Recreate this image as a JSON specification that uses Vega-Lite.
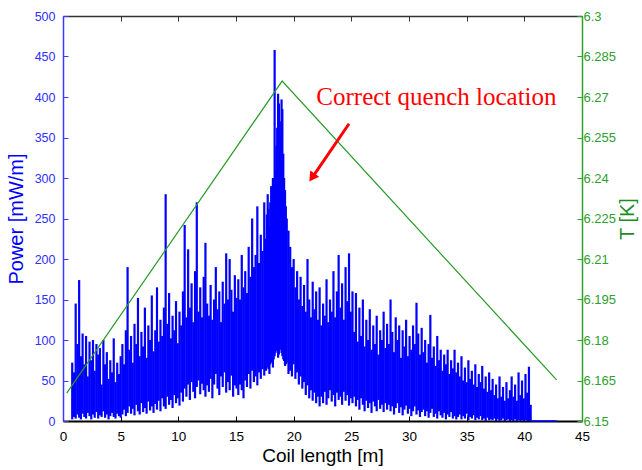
{
  "$schema": "https://vega.github.io/schema/vega-lite/v6.json",
  "width": 519,
  "height": 405,
  "autosize": {"type": "none"},
  "padding": {"left": 63, "top": 16, "right": 60, "bottom": 49},
  "background": "white",
  "config": {
    "view": {"stroke": null},
    "axis": {"grid": false, "labelFont": "Liberation Sans", "titleFont": "Liberation Sans", "titleFontWeight": "normal"}
  },
  "datasets": {
    "power": [
      {"x":0.8,"lo":2,"hi":72},{"x":0.95,"lo":5,"hi":60},{"x":1.1,"lo":3,"hi":145},{"x":1.25,"lo":8,"hi":95},{"x":1.4,"lo":4,"hi":174},{"x":1.55,"lo":2,"hi":80},{"x":1.7,"lo":9,"hi":108},{"x":1.85,"lo":5,"hi":70},{"x":2.0,"lo":3,"hi":105},{"x":2.15,"lo":10,"hi":55},{"x":2.3,"lo":6,"hi":98},{"x":2.45,"lo":2,"hi":75},{"x":2.6,"lo":8,"hi":100},{"x":2.75,"lo":4,"hi":62},{"x":2.9,"lo":11,"hi":95},{"x":3.05,"lo":3,"hi":82},{"x":3.2,"lo":7,"hi":90},{"x":3.35,"lo":5,"hi":45},{"x":3.5,"lo":12,"hi":100},{"x":3.65,"lo":4,"hi":70},{"x":3.8,"lo":8,"hi":85},{"x":3.95,"lo":2,"hi":52},{"x":4.1,"lo":6,"hi":75},{"x":4.25,"lo":10,"hi":60},{"x":4.4,"lo":5,"hi":102},{"x":4.55,"lo":3,"hi":48},{"x":4.7,"lo":9,"hi":72},{"x":4.85,"lo":6,"hi":58},{"x":5.0,"lo":4,"hi":80},
      {"x":5.15,"lo":8,"hi":95},{"x":5.3,"lo":14,"hi":70},{"x":5.45,"lo":6,"hi":112},{"x":5.6,"lo":10,"hi":190},{"x":5.75,"lo":18,"hi":88},{"x":5.9,"lo":9,"hi":105},{"x":6.05,"lo":15,"hi":72},{"x":6.2,"lo":7,"hi":120},{"x":6.35,"lo":20,"hi":95},{"x":6.5,"lo":12,"hi":152},{"x":6.65,"lo":8,"hi":80},{"x":6.8,"lo":22,"hi":110},{"x":6.95,"lo":11,"hi":92},{"x":7.1,"lo":16,"hi":140},{"x":7.25,"lo":9,"hi":78},{"x":7.4,"lo":24,"hi":118},{"x":7.55,"lo":13,"hi":100},{"x":7.7,"lo":18,"hi":155},{"x":7.85,"lo":10,"hi":86},{"x":8.0,"lo":21,"hi":112},
      {"x":8.15,"lo":14,"hi":165},{"x":8.3,"lo":25,"hi":98},{"x":8.45,"lo":12,"hi":125},{"x":8.6,"lo":28,"hi":105},{"x":8.75,"lo":18,"hi":140},{"x":8.9,"lo":15,"hi":280},{"x":9.05,"lo":30,"hi":120},{"x":9.2,"lo":20,"hi":158},{"x":9.35,"lo":26,"hi":102},{"x":9.5,"lo":16,"hi":130},{"x":9.65,"lo":32,"hi":112},{"x":9.8,"lo":22,"hi":148},{"x":9.95,"lo":28,"hi":96},{"x":10.1,"lo":19,"hi":135},
      {"x":10.25,"lo":35,"hi":118},{"x":10.4,"lo":24,"hi":160},{"x":10.55,"lo":40,"hi":242},{"x":10.7,"lo":30,"hi":128},{"x":10.85,"lo":45,"hi":212},{"x":11.0,"lo":26,"hi":140},{"x":11.15,"lo":48,"hi":170},{"x":11.3,"lo":36,"hi":122},{"x":11.45,"lo":28,"hi":185},{"x":11.6,"lo":42,"hi":270},{"x":11.75,"lo":50,"hi":135},{"x":11.9,"lo":33,"hi":165},{"x":12.05,"lo":46,"hi":128},{"x":12.2,"lo":38,"hi":178},{"x":12.35,"lo":30,"hi":220},{"x":12.5,"lo":44,"hi":145},
      {"x":12.65,"lo":36,"hi":130},{"x":12.8,"lo":52,"hi":168},{"x":12.95,"lo":28,"hi":125},{"x":13.1,"lo":45,"hi":150},{"x":13.25,"lo":58,"hi":190},{"x":13.4,"lo":40,"hi":138},{"x":13.55,"lo":32,"hi":160},{"x":13.7,"lo":55,"hi":122},{"x":13.85,"lo":42,"hi":172},{"x":14.0,"lo":60,"hi":145},{"x":14.15,"lo":35,"hi":207},{"x":14.3,"lo":48,"hi":150},{"x":14.45,"lo":38,"hi":200},{"x":14.6,"lo":56,"hi":162},{"x":14.75,"lo":30,"hi":135},{"x":14.9,"lo":44,"hi":180},{"x":15.05,"lo":40,"hi":152},
      {"x":15.2,"lo":32,"hi":175},{"x":15.35,"lo":45,"hi":150},{"x":15.5,"lo":38,"hi":205},{"x":15.65,"lo":28,"hi":165},{"x":15.8,"lo":50,"hi":185},{"x":15.95,"lo":42,"hi":158},{"x":16.1,"lo":58,"hi":215},{"x":16.25,"lo":40,"hi":178},{"x":16.4,"lo":62,"hi":250},{"x":16.55,"lo":48,"hi":190},{"x":16.7,"lo":55,"hi":205},{"x":16.85,"lo":44,"hi":265},{"x":17.0,"lo":60,"hi":195},{"x":17.15,"lo":52,"hi":230},{"x":17.3,"lo":64,"hi":210},{"x":17.45,"lo":56,"hi":270},
      {"x":17.6,"lo":62,"hi":225},{"x":17.67,"lo":66,"hi":255},{"x":17.75,"lo":70,"hi":280},{"x":17.82,"lo":64,"hi":262},{"x":17.9,"lo":58,"hi":240},{"x":17.97,"lo":70,"hi":270},{"x":18.05,"lo":75,"hi":290},{"x":18.12,"lo":72,"hi":285},{"x":18.2,"lo":66,"hi":300},{"x":18.27,"lo":76,"hi":300},{"x":18.35,"lo":80,"hi":458},{"x":18.42,"lo":84,"hi":310},{"x":18.5,"lo":88,"hi":340},{"x":18.57,"lo":86,"hi":362},{"x":18.65,"lo":78,"hi":404},{"x":18.72,"lo":82,"hi":392},{"x":18.8,"lo":90,"hi":370},{"x":18.87,"lo":88,"hi":352},{"x":18.95,"lo":84,"hi":397},{"x":19.02,"lo":80,"hi":385},{"x":19.1,"lo":76,"hi":330},{"x":19.17,"lo":74,"hi":300},{"x":19.25,"lo":68,"hi":285},{"x":19.32,"lo":70,"hi":265},{"x":19.4,"lo":72,"hi":250},{"x":19.55,"lo":58,"hi":235},
      {"x":19.7,"lo":62,"hi":215},{"x":19.85,"lo":55,"hi":190},{"x":20.0,"lo":70,"hi":200},{"x":20.15,"lo":52,"hi":165},{"x":20.3,"lo":60,"hi":185},{"x":20.45,"lo":45,"hi":150},{"x":20.6,"lo":55,"hi":178},{"x":20.75,"lo":40,"hi":142},{"x":20.9,"lo":48,"hi":168},{"x":21.05,"lo":32,"hi":135},{"x":21.2,"lo":44,"hi":200},{"x":21.35,"lo":28,"hi":150},{"x":21.5,"lo":38,"hi":128},{"x":21.65,"lo":25,"hi":172},{"x":21.8,"lo":35,"hi":138},{"x":21.95,"lo":22,"hi":160},{"x":22.1,"lo":30,"hi":125},
      {"x":22.25,"lo":18,"hi":165},{"x":22.4,"lo":30,"hi":118},{"x":22.55,"lo":22,"hi":145},{"x":22.7,"lo":36,"hi":130},{"x":22.85,"lo":20,"hi":175},{"x":23.0,"lo":28,"hi":122},{"x":23.15,"lo":38,"hi":150},{"x":23.3,"lo":24,"hi":135},{"x":23.45,"lo":32,"hi":185},{"x":23.6,"lo":18,"hi":128},{"x":23.75,"lo":35,"hi":160},{"x":23.9,"lo":26,"hi":205},{"x":24.05,"lo":30,"hi":140},{"x":24.2,"lo":20,"hi":170},{"x":24.35,"lo":36,"hi":125},{"x":24.5,"lo":25,"hi":190},{"x":24.65,"lo":32,"hi":148},{"x":24.8,"lo":19,"hi":207},{"x":24.95,"lo":28,"hi":135},{"x":25.1,"lo":22,"hi":160},
      {"x":25.25,"lo":30,"hi":110},{"x":25.4,"lo":18,"hi":158},{"x":25.55,"lo":26,"hi":98},{"x":25.7,"lo":14,"hi":140},{"x":25.85,"lo":28,"hi":105},{"x":26.0,"lo":20,"hi":150},{"x":26.15,"lo":12,"hi":92},{"x":26.3,"lo":25,"hi":125},{"x":26.45,"lo":16,"hi":100},{"x":26.6,"lo":22,"hi":138},{"x":26.75,"lo":10,"hi":88},{"x":26.9,"lo":24,"hi":118},{"x":27.05,"lo":18,"hi":95},{"x":27.2,"lo":12,"hi":130},{"x":27.35,"lo":26,"hi":82},{"x":27.5,"lo":15,"hi":112},{"x":27.65,"lo":20,"hi":100},{"x":27.8,"lo":11,"hi":135},{"x":27.95,"lo":22,"hi":90},{"x":28.1,"lo":14,"hi":120},
      {"x":28.25,"lo":20,"hi":95},{"x":28.4,"lo":12,"hi":150},{"x":28.55,"lo":18,"hi":110},{"x":28.7,"lo":8,"hi":85},{"x":28.85,"lo":16,"hi":128},{"x":29.0,"lo":22,"hi":100},{"x":29.15,"lo":10,"hi":118},{"x":29.3,"lo":17,"hi":78},{"x":29.45,"lo":7,"hi":112},{"x":29.6,"lo":14,"hi":92},{"x":29.75,"lo":19,"hi":125},{"x":29.9,"lo":9,"hi":80},{"x":30.05,"lo":15,"hi":105},{"x":30.2,"lo":6,"hi":88},{"x":30.35,"lo":12,"hi":118},{"x":30.5,"lo":18,"hi":95},{"x":30.65,"lo":8,"hi":146},{"x":30.8,"lo":13,"hi":108},{"x":30.95,"lo":5,"hi":82},{"x":31.1,"lo":11,"hi":115},
      {"x":31.25,"lo":14,"hi":85},{"x":31.4,"lo":6,"hi":100},{"x":31.55,"lo":12,"hi":72},{"x":31.7,"lo":4,"hi":95},{"x":31.85,"lo":10,"hi":131},{"x":32.0,"lo":15,"hi":78},{"x":32.15,"lo":5,"hi":92},{"x":32.3,"lo":9,"hi":68},{"x":32.45,"lo":3,"hi":105},{"x":32.6,"lo":12,"hi":75},{"x":32.75,"lo":7,"hi":88},{"x":32.9,"lo":4,"hi":62},{"x":33.05,"lo":10,"hi":82},{"x":33.2,"lo":2,"hi":70},{"x":33.35,"lo":8,"hi":88},{"x":33.5,"lo":5,"hi":58},{"x":33.65,"lo":11,"hi":75},{"x":33.8,"lo":3,"hi":65},{"x":33.95,"lo":6,"hi":88},{"x":34.1,"lo":2,"hi":60},
      {"x":34.25,"lo":5,"hi":72},{"x":34.4,"lo":8,"hi":55},{"x":34.55,"lo":2,"hi":80},{"x":34.7,"lo":6,"hi":50},{"x":34.85,"lo":3,"hi":66},{"x":35.0,"lo":9,"hi":48},{"x":35.15,"lo":1,"hi":75},{"x":35.3,"lo":5,"hi":52},{"x":35.45,"lo":3,"hi":62},{"x":35.6,"lo":7,"hi":45},{"x":35.75,"lo":1,"hi":70},{"x":35.9,"lo":4,"hi":42},{"x":36.05,"lo":2,"hi":58},{"x":36.2,"lo":6,"hi":48},{"x":36.35,"lo":1,"hi":68},{"x":36.5,"lo":3,"hi":40},{"x":36.65,"lo":0,"hi":55},{"x":36.8,"lo":4,"hi":36},{"x":36.95,"lo":1,"hi":60},{"x":37.1,"lo":2,"hi":38},
      {"x":37.25,"lo":1,"hi":52},{"x":37.4,"lo":3,"hi":32},{"x":37.55,"lo":0,"hi":45},{"x":37.7,"lo":2,"hi":28},{"x":37.85,"lo":0,"hi":55},{"x":38.0,"lo":1,"hi":30},{"x":38.15,"lo":3,"hi":42},{"x":38.3,"lo":0,"hi":25},{"x":38.45,"lo":1,"hi":48},{"x":38.6,"lo":2,"hi":28},{"x":38.75,"lo":0,"hi":38},{"x":38.9,"lo":1,"hi":55},{"x":39.05,"lo":0,"hi":30},{"x":39.2,"lo":2,"hi":45},{"x":39.35,"lo":0,"hi":25},{"x":39.5,"lo":1,"hi":60},{"x":39.65,"lo":0,"hi":32},{"x":39.8,"lo":1,"hi":50},{"x":39.95,"lo":0,"hi":28},{"x":40.1,"lo":1,"hi":58},{"x":40.25,"lo":0,"hi":35},{"x":40.4,"lo":0,"hi":67},{"x":40.55,"lo":0,"hi":20}
    ],
    "tail": [{"x":40.55,"p":0},{"x":42.8,"p":0}],
    "temp": [{"x":0.32,"t":6.1603},{"x":19.0,"t":6.2759},{"x":42.8,"t":6.1652}],
    "arrow": [{"x":24.8,"y":367,"x2":21.68,"y2":302}],
    "head": [{"x":21.59,"y":300.6}],
    "note": [{"x":32.38,"y":390,"label":"Correct quench location"}]
  },
  "layer": [
    {
      "data": {"name": "power"},
      "mark": {"type": "rule", "color": "#0000ff", "strokeWidth": 2.2},
      "encoding": {
        "x": {"field": "x", "type": "quantitative", "scale": {"domain": [0, 45], "nice": false, "zero": false},
          "axis": {"orient": "bottom", "values": [0,5,10,15,20,25,30,35,40,45], "title": "Coil length [m]", "titleFontSize": 19, "titleColor": "#000000", "labelFontSize": 13.5, "labelColor": "#000000", "domainColor": "#000000", "domainWidth": 2, "tickColor": "#000000", "tickSize": -5, "tickWidth": 1, "labelPadding": 13, "titlePadding": 4, "labelFlush": false}},
        "y": {"field": "lo", "type": "quantitative", "scale": {"domain": [0, 500], "nice": false},
          "axis": {"orient": "left", "values": [0,50,100,150,200,250,300,350,400,450,500], "title": "Power [mW/m]", "titleFontSize": 20, "titleColor": "#0000ff", "labelFontSize": 12.5, "labelColor": "#3030ff", "domainColor": "#3a3aff", "domainWidth": 1.5, "tickColor": "#3a3aff", "tickSize": -5, "labelPadding": 13, "titlePadding": 8, "labelFlush": false}},
        "y2": {"field": "hi"}
      }
    },
    {
      "data": {"name": "tail"},
      "mark": {"type": "line", "color": "#0000ff", "strokeWidth": 1.5},
      "encoding": {
        "x": {"field": "x", "type": "quantitative", "axis": null},
        "y": {"field": "p", "type": "quantitative", "scale": {"domain": [0, 500], "nice": false}, "axis": null}
      }
    },
    {
      "data": {"name": "temp"},
      "mark": {"type": "line", "color": "#2a9a2a", "strokeWidth": 1.2},
      "encoding": {
        "x": {"field": "x", "type": "quantitative",
          "axis": {"orient": "top", "values": [0,5,10,15,20,25,30,35,40,45], "labels": false, "title": null, "domainColor": "#333333", "domainWidth": 1.5, "tickColor": "#333333", "tickSize": -5}},
        "y": {"field": "t", "type": "quantitative", "scale": {"domain": [6.15, 6.3], "nice": false, "zero": false},
          "axis": {"orient": "right", "values": [6.15,6.165,6.18,6.195,6.21,6.225,6.24,6.255,6.27,6.285,6.3], "format": ".4~f", "title": "T [K]", "titleAngle": 270, "titleFontSize": 20, "titleColor": "#1e8c1e", "labelFontSize": 13, "labelColor": "#2ea02e", "domainColor": "#2ea02e", "domainWidth": 1.5, "tickColor": "#2ea02e", "tickSize": -5, "labelPadding": 6, "titlePadding": 22, "labelFlush": false}}
      }
    },
    {
      "data": {"name": "arrow"},
      "mark": {"type": "rule", "color": "#ff0000", "strokeWidth": 3},
      "encoding": {
        "x": {"field": "x", "type": "quantitative", "axis": null},
        "y": {"field": "y", "type": "quantitative", "scale": {"domain": [0, 500], "nice": false}, "axis": null},
        "x2": {"field": "x2"},
        "y2": {"field": "y2"}
      }
    },
    {
      "data": {"name": "head"},
      "mark": {"type": "point", "shape": "triangle-up", "filled": true, "color": "#ff0000", "opacity": 1, "size": 120, "angle": 214.6},
      "encoding": {
        "x": {"field": "x", "type": "quantitative", "axis": null},
        "y": {"field": "y", "type": "quantitative", "scale": {"domain": [0, 500], "nice": false}, "axis": null}
      }
    },
    {
      "data": {"name": "note"},
      "mark": {"type": "text", "font": "Liberation Serif", "fontSize": 25, "color": "#ff0000", "align": "center", "baseline": "alphabetic"},
      "encoding": {
        "x": {"field": "x", "type": "quantitative", "axis": null},
        "y": {"field": "y", "type": "quantitative", "scale": {"domain": [0, 500], "nice": false}, "axis": null},
        "text": {"field": "label"}
      }
    }
  ],
  "resolve": {"scale": {"y": "independent"}}
}
